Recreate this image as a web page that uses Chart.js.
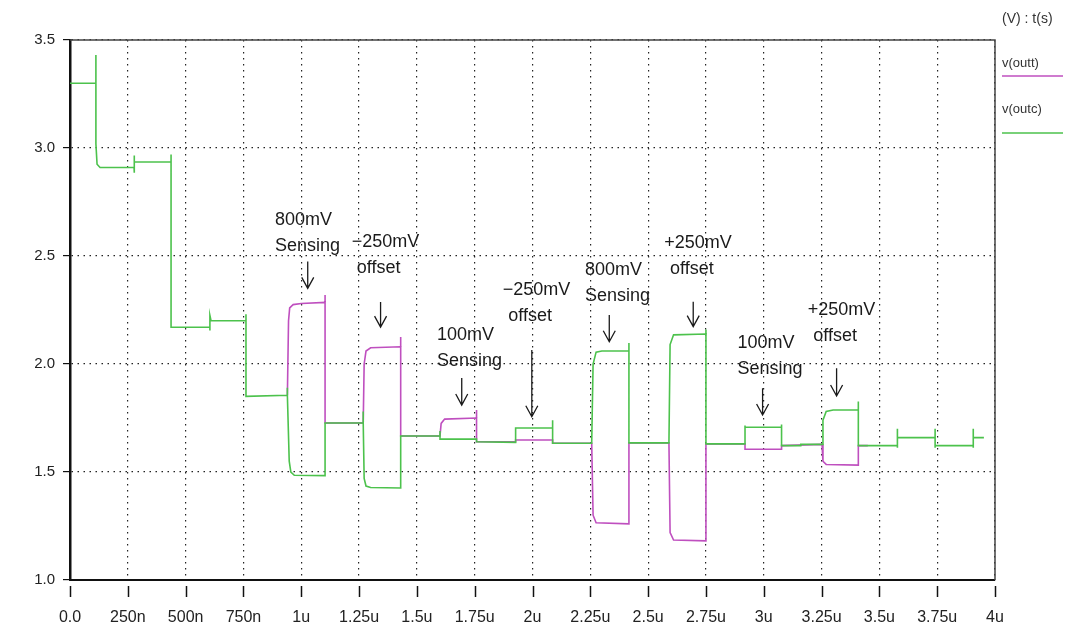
<!DOCTYPE html>
<html>
<head>
<meta charset="utf-8">
<script src="https://cdn.jsdelivr.net/npm/chart.js@4"></script>
<style>
  body { margin: 0; background: #fff; }
  #wrap { width: 1073px; height: 641px; }
</style>
</head>
<body>
<div id="wrap"><canvas id="simChart" width="1073" height="641"></canvas></div>
<script>
// Chart data (time in us, voltage in V)
const outcTime = [0, 0.112, 0.112, 0.112, 0.117, 0.13, 0.277, 0.277, 0.277, 0.28, 0.437, 0.437, 0.437, 0.605, 0.605, 0.605, 0.61, 0.761, 0.761, 0.761,
    0.94, 0.94, 0.94, 0.948, 0.955, 0.97, 1.103, 1.103, 1.268, 1.268, 1.268, 1.272, 1.28, 1.30, 1.43, 1.43,
    1.60, 1.60, 1.60, 1.758, 1.758, 1.927, 1.927, 2.087, 2.087, 2.087, 2.256, 2.262, 2.275, 2.30, 2.417, 2.417, 2.417,
    2.59, 2.595, 2.61, 2.75, 2.75, 2.75, 2.919, 2.919, 2.919, 3.077, 3.077, 3.077, 3.16, 3.16, 3.252, 3.256, 3.27, 3.30, 3.409, 3.409, 3.409,
    3.578, 3.578, 3.578, 3.578, 3.741, 3.741, 3.741, 3.741, 3.906, 3.906, 3.906, 3.906, 3.952];
const outcVolt = [3.30, 3.30, 3.43, 3.02, 2.925, 2.91, 2.91, 2.885, 2.965, 2.935, 2.935, 2.97, 2.17, 2.17, 2.155, 2.225, 2.20, 2.20, 2.23, 1.85,
    1.855, 1.89, 1.855, 1.55, 1.50, 1.485, 1.483, 1.727, 1.727, 1.78, 1.727, 1.47, 1.435, 1.428, 1.426, 1.667,
    1.667, 1.69, 1.652, 1.652, 1.640, 1.637, 1.704, 1.704, 1.74, 1.633, 1.633, 2.0, 2.055, 2.06, 2.06, 2.097, 1.635,
    1.635, 2.09, 2.135, 2.139, 2.16, 1.630, 1.630, 1.715, 1.707, 1.707, 1.72, 1.622, 1.622, 1.628, 1.628, 1.74, 1.78, 1.787, 1.787, 1.826, 1.622,
    1.622, 1.70, 1.612, 1.659, 1.659, 1.70, 1.612, 1.622, 1.622, 1.70, 1.612, 1.659, 1.659];

// v(outt) follows v(outc) (hidden under it) until the first sensing pulse
const outtTime = [0.94, 0.945, 0.95, 0.965, 1.0, 1.103, 1.103, 1.103, 1.268, 1.272, 1.28, 1.30, 1.43, 1.43, 1.43,
    1.60, 1.605, 1.62, 1.758, 1.758, 1.758, 1.927, 1.927, 2.087, 2.087, 2.256, 2.262, 2.275, 2.417, 2.417,
    2.59, 2.595, 2.61, 2.75, 2.75, 2.919, 2.919, 3.077, 3.077, 3.252, 3.256, 3.27, 3.409, 3.409, 3.45];
const outtVolt = [1.855, 2.2, 2.26, 2.275, 2.28, 2.285, 2.32, 1.727, 1.727, 2.0, 2.06, 2.075, 2.08, 2.125, 1.667,
    1.667, 1.725, 1.745, 1.75, 1.787, 1.64, 1.64, 1.648, 1.648, 1.633, 1.633, 1.30, 1.265, 1.26, 1.635,
    1.635, 1.22, 1.185, 1.181, 1.63, 1.63, 1.605, 1.605, 1.622, 1.628, 1.55, 1.535, 1.532, 1.622, 1.622];

const xTicks = [0, 0.25, 0.5, 0.75, 1, 1.25, 1.5, 1.75, 2, 2.25, 2.5, 2.75, 3, 3.25, 3.5, 3.75, 4];
const xTickLabels = ['0.0', '250n', '500n', '750n', '1u', '1.25u', '1.5u', '1.75u', '2u', '2.25u', '2.5u', '2.75u', '3u', '3.25u', '3.5u', '3.75u', '4u'];
const yTicks = [1.0, 1.5, 2.0, 2.5, 3.0, 3.5];
const yTickLabels = ['1.0', '1.5', '2.0', '2.5', '3.0', '3.5'];

// Notes: text lines, left edge of each line (us), centre of first line (V), arrow time and span (V)
const notes = [
    { lines: ['800mV', 'Sensing'], t: [0.886, 0.886], v: 2.667, at: 1.028, a: [2.474, 2.350] },
    { lines: ['\u2212250mV', 'offset'], t: [1.218, 1.240], v: 2.563, at: 1.343, a: [2.287, 2.171] },
    { lines: ['100mV', 'Sensing'], t: [1.587, 1.587], v: 2.134, at: 1.694, a: [1.935, 1.810] },
    { lines: ['\u2212250mV', 'offset'], t: [1.871, 1.895], v: 2.343, at: 1.997, a: [2.065, 1.756] },
    { lines: ['800mV', 'Sensing'], t: [2.227, 2.227], v: 2.435, at: 2.332, a: [2.227, 2.103] },
    { lines: ['+250mV', 'offset'], t: [2.570, 2.595], v: 2.560, at: 2.695, a: [2.288, 2.173] },
    { lines: ['100mV', 'Sensing'], t: [2.886, 2.886], v: 2.096, at: 2.995, a: [1.888, 1.764] },
    { lines: ['+250mV', 'offset'], t: [3.190, 3.214], v: 2.250, at: 3.315, a: [1.980, 1.852] }
];

const GREEN = '#4cc24c';
const MAGENTA = '#bf4fbf';
const FONT = '"Liberation Sans", Arial, sans-serif';

const toPoints = (ts, vs) => ts.map((t, i) => ({ x: t, y: vs[i] }));

// frame, bottom tick marks, notes and legend
const decorPlugin = {
    id: 'decor',
    afterDraw(chart) {
        const { ctx, chartArea: area, scales } = chart;
        ctx.save();
        // top and right frame
        ctx.strokeStyle = '#444';
        ctx.lineWidth = 1.5;
        ctx.beginPath();
        ctx.moveTo(area.left, area.top);
        ctx.lineTo(area.right, area.top);
        ctx.lineTo(area.right, area.bottom);
        ctx.stroke();
        // detached x tick marks
        ctx.strokeStyle = '#111';
        ctx.lineWidth = 1.5;
        xTicks.forEach(v => {
            const px = Math.round(scales.x.getPixelForValue(v)) + 0.5;
            ctx.beginPath();
            ctx.moveTo(px, area.bottom + 6);
            ctx.lineTo(px, area.bottom + 17);
            ctx.stroke();
        });
        // notes with arrows
        ctx.fillStyle = '#1a1a1a';
        ctx.strokeStyle = '#1a1a1a';
        ctx.font = '18px ' + FONT;
        ctx.textAlign = 'left';
        ctx.textBaseline = 'middle';
        notes.forEach(n => {
            const y1 = scales.y.getPixelForValue(n.v);
            n.lines.forEach((s, i) => {
                ctx.fillText(s, scales.x.getPixelForValue(n.t[i]), y1 + i * 26);
            });
            const ax = scales.x.getPixelForValue(n.at);
            const ya = scales.y.getPixelForValue(n.a[0]);
            const yb = scales.y.getPixelForValue(n.a[1]);
            ctx.lineWidth = 1.3;
            ctx.beginPath();
            ctx.moveTo(ax, ya);
            ctx.lineTo(ax, yb);
            ctx.moveTo(ax - 6, yb - 11);
            ctx.lineTo(ax, yb);
            ctx.lineTo(ax + 6, yb - 11);
            ctx.stroke();
        });
        // legend at right
        ctx.fillStyle = '#333';
        ctx.font = '14px ' + FONT;
        ctx.fillText('(V) : t(s)', 1002, 19);
        ctx.font = '13px ' + FONT;
        ctx.fillText('v(outt)', 1002, 63);
        ctx.fillText('v(outc)', 1002, 109);
        ctx.lineWidth = 1.5;
        ctx.strokeStyle = MAGENTA;
        ctx.beginPath();
        ctx.moveTo(1002, 76);
        ctx.lineTo(1063, 76);
        ctx.stroke();
        ctx.strokeStyle = GREEN;
        ctx.beginPath();
        ctx.moveTo(1002, 133);
        ctx.lineTo(1063, 133);
        ctx.stroke();
        ctx.restore();
    }
};

const simCtx = document.getElementById('simChart').getContext('2d');
new Chart(simCtx, {
    type: 'line',
    data: {
        datasets: [{
            label: 'v(outc)',
            data: toPoints(outcTime, outcVolt),
            borderColor: GREEN,
            borderWidth: 1.6,
            pointRadius: 0,
            tension: 0
        }, {
            label: 'v(outt)',
            data: toPoints(outtTime, outtVolt),
            borderColor: MAGENTA,
            borderWidth: 1.6,
            pointRadius: 0,
            tension: 0
        }]
    },
    options: {
        responsive: false,
        animation: false,
        devicePixelRatio: 1,
        layout: { padding: { left: 0, top: 40, right: 78, bottom: 0 } },
        plugins: { legend: { display: false }, tooltip: { enabled: false } },
        scales: {
            x: {
                type: 'linear',
                min: 0,
                max: 4,
                afterBuildTicks: scale => { scale.ticks = xTicks.map(v => ({ value: v })); },
                afterFit: scale => { scale.height = 61; },
                ticks: {
                    callback: (v, i) => xTickLabels[i],
                    font: { family: FONT, size: 16 },
                    color: '#222',
                    padding: 28,
                    maxRotation: 0,
                    autoSkip: false
                },
                grid: { color: '#222', lineWidth: 1.2, drawTicks: false },
                border: { color: '#111', width: 2, dash: [1.5, 4.5] }
            },
            y: {
                min: 1,
                max: 3.5,
                afterBuildTicks: scale => { scale.ticks = yTicks.map(v => ({ value: v })); },
                afterFit: scale => { scale.width = 70; },
                ticks: {
                    callback: (v, i) => yTickLabels[i],
                    font: { family: FONT, size: 15 },
                    color: '#222',
                    padding: 8
                },
                grid: { color: '#222', lineWidth: 1.2, tickLength: 7, tickColor: '#111', tickWidth: 1.2, tickBorderDash: [] },
                border: { color: '#111', width: 2.5, dash: [1.5, 4.5] }
            }
        }
    },
    plugins: [decorPlugin]
});
</script>
</body>
</html>
